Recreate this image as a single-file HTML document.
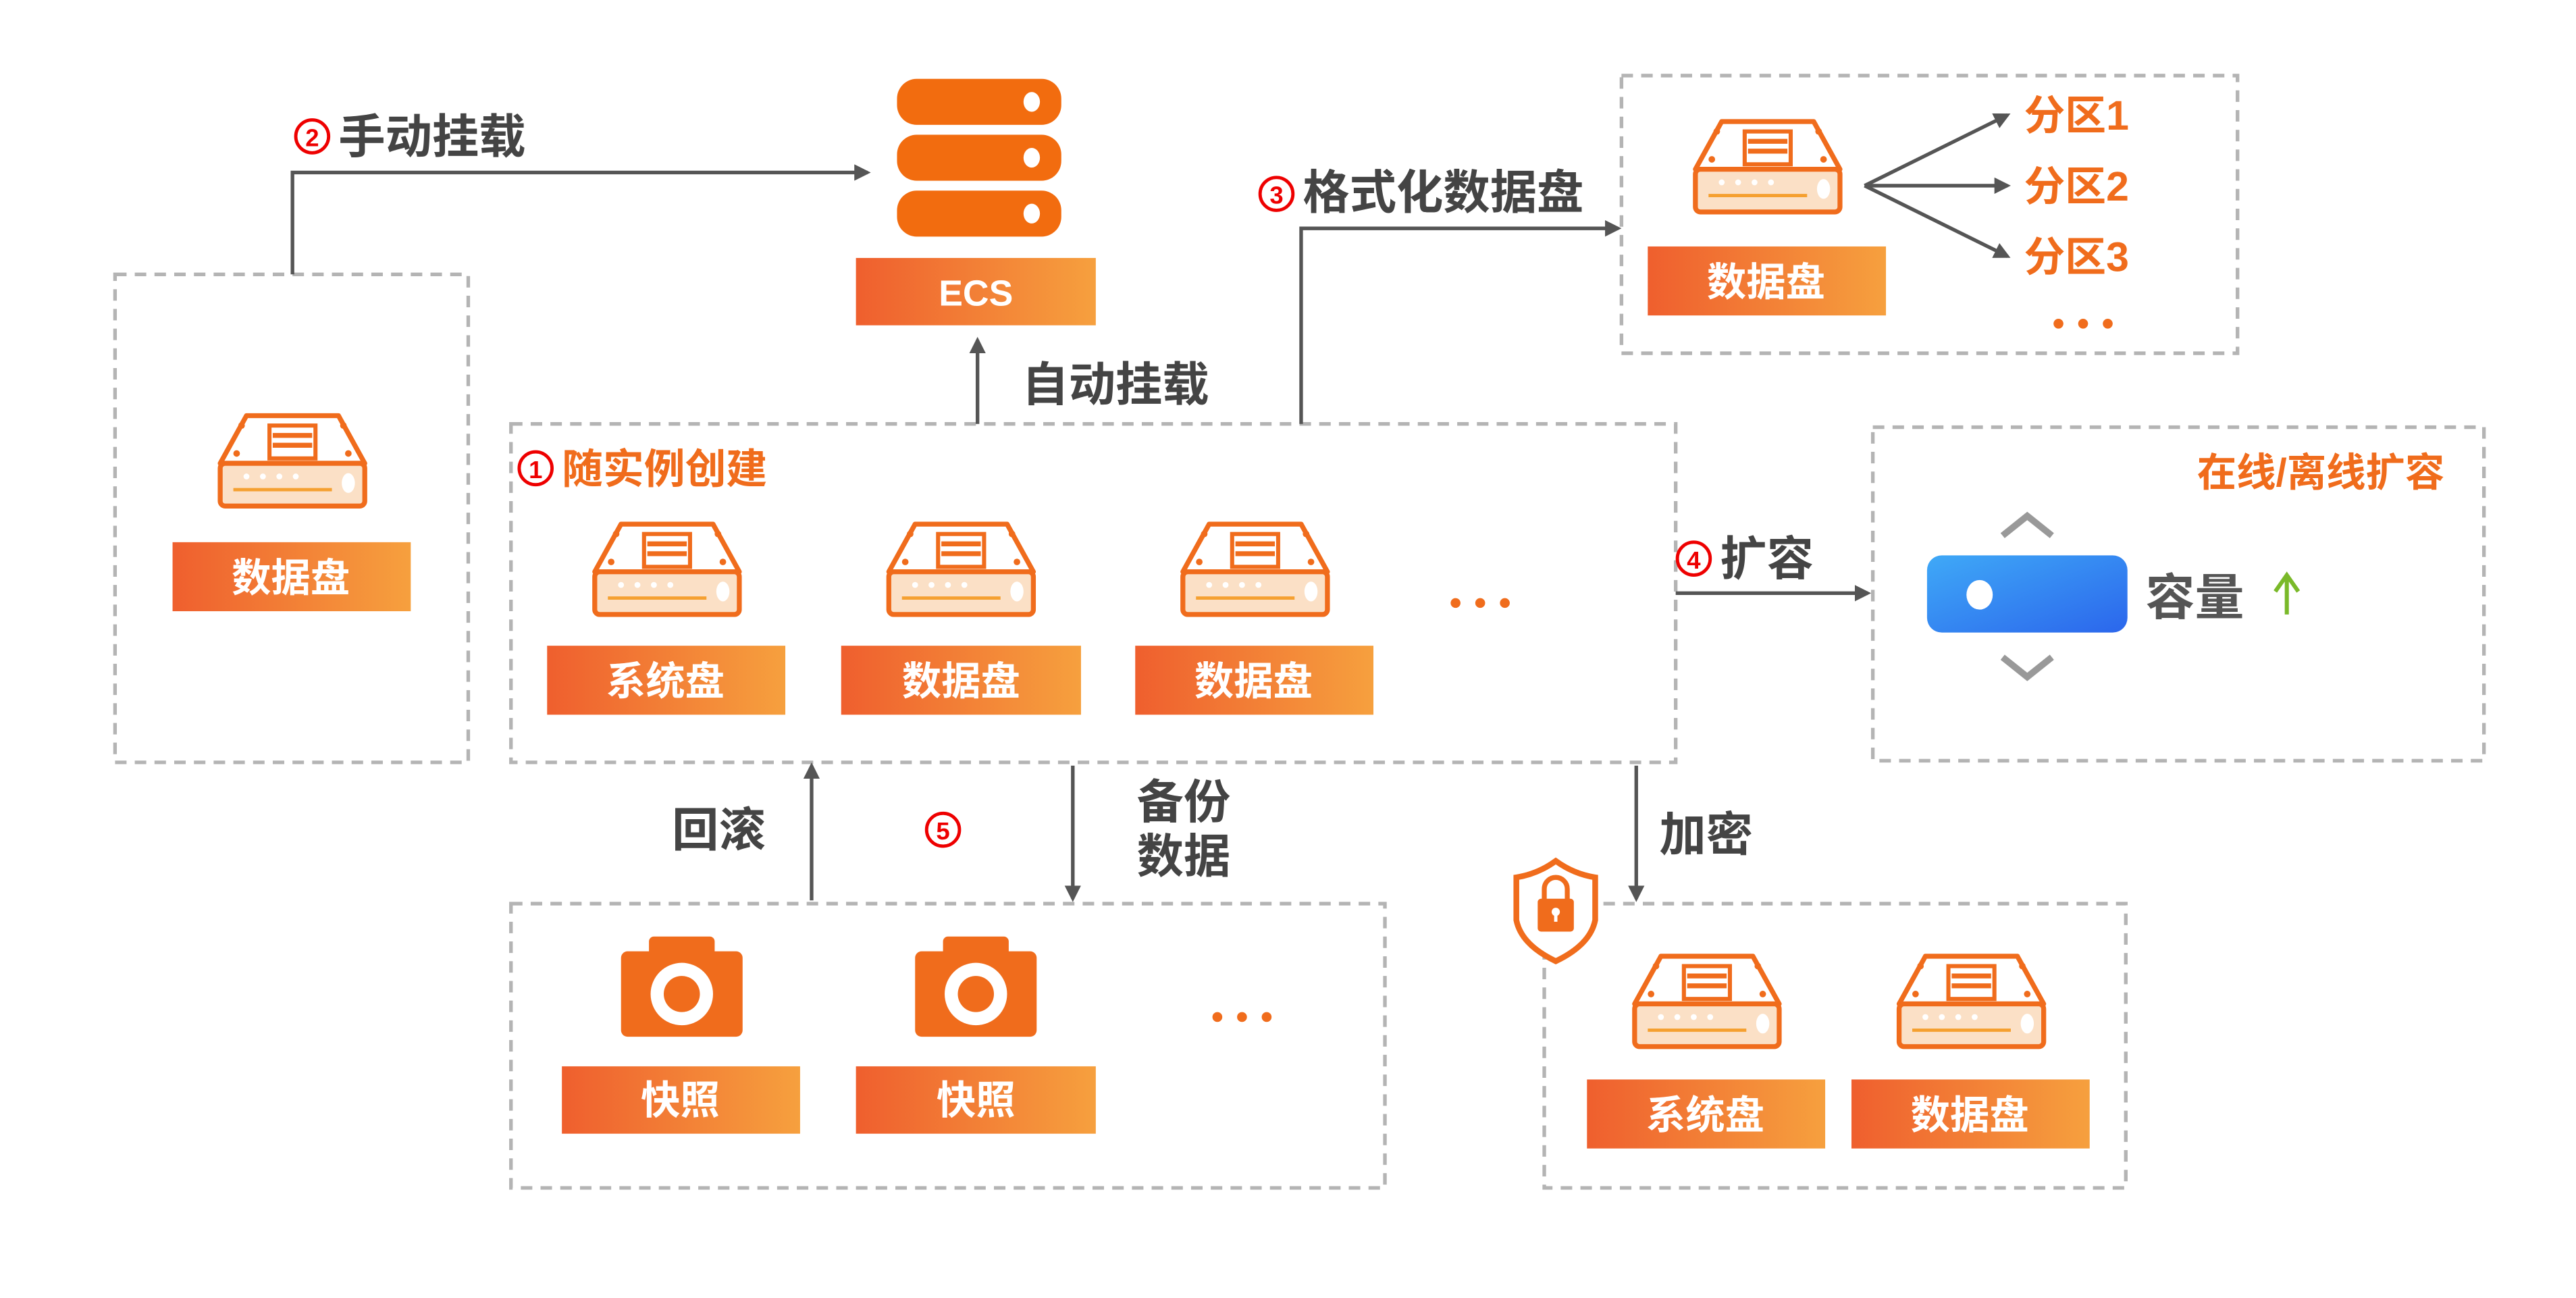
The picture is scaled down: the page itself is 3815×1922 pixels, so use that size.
<!DOCTYPE html>
<html><head><meta charset="utf-8"><style>
html,body{margin:0;padding:0;background:#fff}
svg{display:block}
text{font-family:"Liberation Sans","Noto Sans CJK SC",sans-serif;font-weight:bold}
</style></head><body>
<svg width="3815" height="1922" viewBox="0 0 1568 790" xmlns="http://www.w3.org/2000/svg">
<defs>
<linearGradient id="g" x1="0" x2="1" y1="0" y2="0"><stop offset="0" stop-color="#ef5f2e"/><stop offset="1" stop-color="#f6a03e"/></linearGradient>
<linearGradient id="b" x1="0" x2="1" y1="0" y2="1"><stop offset="0" stop-color="#3fa9f7"/><stop offset="1" stop-color="#2b66ec"/></linearGradient>
<marker id="a" markerWidth="10" markerHeight="10" refX="8" refY="5" orient="auto" markerUnits="userSpaceOnUse"><path d="M0,0 L10,5 L0,10 z" fill="#555"/></marker>
<g id="disk">
<path d="M18,2 L74,2 L90,31 L2,31 Z" fill="#fff" stroke="#f06c1c" stroke-width="3" stroke-linejoin="round"/>
<rect x="2" y="31" width="88" height="26" rx="3" fill="#fbe0c6" stroke="#f06c1c" stroke-width="3"/>
<rect x="32" y="8" width="28" height="20" fill="#fff" stroke="#f06c1c" stroke-width="2.5"/>
<line x1="34" y1="14" x2="58" y2="14" stroke="#f06c1c" stroke-width="3"/>
<line x1="34" y1="20" x2="58" y2="20" stroke="#f06c1c" stroke-width="3"/>
<circle cx="15" cy="8" r="2" fill="#f06c1c"/><circle cx="77" cy="8" r="2" fill="#f06c1c"/>
<circle cx="12" cy="25" r="2" fill="#f06c1c"/><circle cx="80" cy="25" r="2" fill="#f06c1c"/>
<line x1="10" y1="47" x2="70" y2="47" stroke="#f5a030" stroke-width="2"/>
<ellipse cx="80" cy="43" rx="4" ry="6" fill="#fff"/>
<circle cx="18" cy="39" r="1.8" fill="#fff"/><circle cx="28" cy="39" r="1.8" fill="#fff"/><circle cx="38" cy="39" r="1.8" fill="#fff"/><circle cx="48" cy="39" r="1.8" fill="#fff"/>
</g>
<g id="cam">
<rect x="-37" y="-22" width="74" height="52" rx="4" fill="#f06c1c"/>
<rect x="-20" y="-31" width="40" height="12" rx="3" fill="#f06c1c"/>
<circle cx="0" cy="4" r="19" fill="#fff"/><circle cx="0" cy="4" r="11" fill="#f06c1c"/>
</g>
</defs>
<g fill="none" stroke="#b4b4b4" stroke-width="2.2" stroke-dasharray="7,5">
<rect x="70" y="167" width="215" height="297"/>
<rect x="311" y="258" width="709" height="206"/>
<rect x="987" y="46" width="375" height="169"/>
<rect x="1140" y="260" width="372" height="203"/>
<rect x="311" y="550" width="532" height="173"/>
<rect x="940" y="550" width="354" height="173"/>
</g>
<g stroke="#555" stroke-width="2.2" fill="none" marker-end="url(#a)">
<path d="M178,167 V105 H528"/>
<path d="M595,258 V207" />
<path d="M792,258 V139 H985"/>
<path d="M1020,361 H1137"/>
<path d="M494,548 V466"/>
<path d="M653,466 V547"/>
<path d="M996,466 V547"/>
<path d="M1135,113 L1222,70"/><path d="M1135,113 L1222,113"/><path d="M1135,113 L1222,156"/>
</g>
<rect x="546" y="48" width="100" height="28" rx="12" fill="#f26c0f"/>
<rect x="546" y="82" width="100" height="28" rx="12" fill="#f26c0f"/>
<rect x="546" y="116" width="100" height="28" rx="12" fill="#f26c0f"/>
<ellipse cx="628" cy="62" rx="5" ry="6" fill="#fff"/><ellipse cx="628" cy="96" rx="5" ry="6" fill="#fff"/><ellipse cx="628" cy="130" rx="5" ry="6" fill="#fff"/>
<rect x="521" y="157" width="146" height="41" fill="url(#g)"/>
<text x="594" y="186" font-size="22" fill="#fff" text-anchor="middle">ECS</text>
<use href="#disk" x="132" y="251"/>
<use href="#disk" x="360" y="317"/>
<use href="#disk" x="539" y="317"/>
<use href="#disk" x="718" y="317"/>
<use href="#disk" x="1030" y="72"/>
<use href="#disk" x="993" y="580"/>
<use href="#disk" x="1154" y="580"/>
<g fill="url(#g)">
<rect x="105" y="330" width="145" height="42"/>
<rect x="333" y="393" width="145" height="42"/>
<rect x="512" y="393" width="146" height="42"/>
<rect x="691" y="393" width="145" height="42"/>
<rect x="1003" y="150" width="145" height="42"/>
<rect x="342" y="649" width="145" height="41"/>
<rect x="521" y="649" width="146" height="41"/>
<rect x="966" y="657" width="145" height="42"/>
<rect x="1127" y="657" width="145" height="42"/>
</g>
<g fill="#fff" font-size="24" text-anchor="middle">
<text x="177" y="360">数据盘</text>
<text x="405" y="423">系统盘</text>
<text x="585" y="423">数据盘</text>
<text x="763" y="423">数据盘</text>
<text x="1075" y="180">数据盘</text>
<text x="414" y="678">快照</text>
<text x="594" y="678">快照</text>
<text x="1038" y="687">系统盘</text>
<text x="1199" y="687">数据盘</text>
</g>
<use href="#cam" x="415" y="601"/>
<use href="#cam" x="594" y="601"/>
<path d="M947,524 Q958,532 971,534 V560 Q968,575 947,585 Q926,575 923,560 V534 Q936,532 947,524 Z" fill="#fff" stroke="#f06c1c" stroke-width="3.5"/>
<rect x="936" y="547" width="22" height="20" rx="2" fill="#f06c1c"/>
<path d="M940,548 V541 a7,7 0 0 1 14,0 V548" fill="none" stroke="#f06c1c" stroke-width="3"/>
<circle cx="947" cy="555" r="2.5" fill="#fff"/><rect x="946" y="555" width="2" height="6" fill="#fff"/>
<rect x="1173" y="338" width="122" height="47" rx="9" fill="url(#b)"/>
<ellipse cx="1205" cy="362" rx="8" ry="9" fill="#fff"/>
<path d="M1219,326 L1234,314 L1249,326" fill="none" stroke="#999" stroke-width="4"/>
<path d="M1219,400 L1234,412 L1249,400" fill="none" stroke="#999" stroke-width="4"/>
<text x="1306" y="374" font-size="30" fill="#555">容量</text>
<path d="M1392,374 V352 M1385,360 L1392,350 L1399,360" fill="none" stroke="#7ab929" stroke-width="2.5"/>
<g font-size="28.5" fill="#444">
<text x="206" y="93">手动挂载</text>
<text x="622" y="244">自动挂载</text>
<text x="793" y="127">格式化数据盘</text>
<text x="1047" y="350">扩容</text>
<text x="409" y="515">回滚</text>
<text x="692" y="498">备份</text>
<text x="692" y="531">数据</text>
<text x="1010" y="518">加密</text>
</g>
<g fill="#e00" text-anchor="middle">
<circle cx="190" cy="83" r="10" fill="none" stroke="#e00" stroke-width="2"/><text x="190" y="89" font-size="15">2</text>
<circle cx="777" cy="118" r="10" fill="none" stroke="#e00" stroke-width="2"/><text x="777" y="124" font-size="15">3</text>
<circle cx="1031" cy="340" r="10" fill="none" stroke="#e00" stroke-width="2"/><text x="1031" y="346" font-size="15">4</text>
<circle cx="574" cy="505" r="10" fill="none" stroke="#e00" stroke-width="2"/><text x="574" y="511" font-size="15">5</text>
<circle cx="326" cy="285" r="10" fill="none" stroke="#e00" stroke-width="2"/><text x="326" y="291" font-size="15">1</text>
</g>
<g fill="#f06c1c">
<text x="342" y="294" font-size="25">随实例创建</text>
<text x="1488" y="296" text-anchor="end" font-size="24">在线/离线扩容</text>
<text x="1232" y="79" font-size="25">分区1</text>
<text x="1232" y="122" font-size="25">分区2</text>
<text x="1232" y="165" font-size="25">分区3</text>
</g>
<g fill="#f06c1c">
<circle cx="886" cy="367" r="3"/><circle cx="901" cy="367" r="3"/><circle cx="916" cy="367" r="3"/>
<circle cx="1253" cy="197" r="3"/><circle cx="1268" cy="197" r="3"/><circle cx="1283" cy="197" r="3"/>
<circle cx="741" cy="619" r="3"/><circle cx="756" cy="619" r="3"/><circle cx="771" cy="619" r="3"/>
</g>
</svg>
</body></html>
